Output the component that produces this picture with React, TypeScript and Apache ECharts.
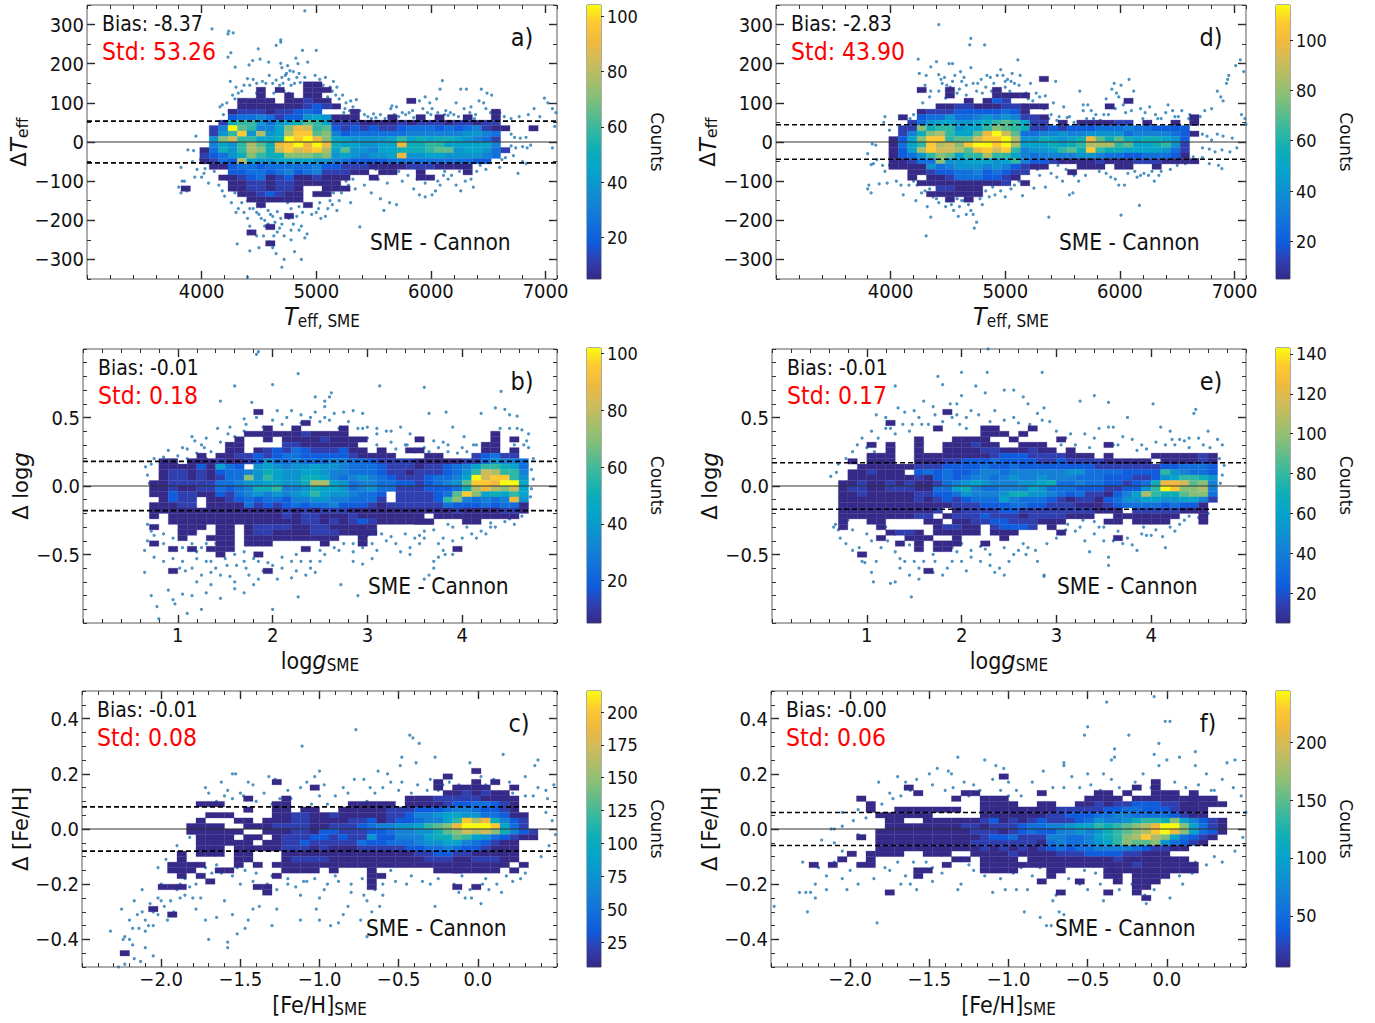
import React, { useRef, useEffect } from 'react'
import * as echarts from 'echarts'

type Row = [number, number, string]
type Pt = [number, number]

// colour ramp of the 2d histograms
const parula: string[] = ['#352a87', '#2f3fb0', '#0f5cdd', '#1170dc', '#1481d6', '#0c94cf', '#06a4ca', '#0dadb8', '#2eb7a4', '#5abb8d', '#87bf77', '#aebd68', '#d1bb59', '#f0b93e', '#fec832', '#f9fb0e']

// histogram rows: [row from top, first column, one hex level per bin] on a 50x50 bin grid
const histA: Row[] = [
  [14, 23, '00'], [15, 18, '0'], [15, 20, '0'], [15, 23, '000'], [16, 18, '0'], [16, 21, '0'], [16, 23, '00'],
  [17, 16, '0000.00100'], [17, 34, '0'], [18, 16, '00000001210'], [19, 15, '0111011232...0'], [19, 43, '0'],
  [20, 15, '23343122565000'], [20, 32, '0'], [20, 35, '0'], [20, 37, '0'], [20, 40, '0'], [20, 43, '0'],
  [21, 14, '17885 35679 86111 00001 01110 11011'],
  [22, 13, '14f98 446ad c8921 21211 23332 32341 00'], [22, 47, '0'],
  [23, 13, '158e5 b56be e9a42 33333 34444 44554 3'],
  [24, 13, '5ac88 667fe fda66 55556 86767 76543 1'],
  [25, 13, '4658b 97def dfd76 65566 d7788 66666 4'],
  [26, 12, '03758 ba7ce cdeb6 95546 67778 99566 531'],
  [27, 12, '12357 a877a aa9a5 65455 6d556 65555 43'],
  [28, 12, '0132b 65566 66554 32222 33333 33332 2'],
  [29, 13, '00233 23333 34221 110'], [29, 31, '00011 10000'],
  [30, 15, '22332 34234 11100'], [30, 31, '00'], [30, 35, '0'], [30, 40, '0'],
  [31, 14, '00123 01200 1000'], [31, 30, '0'], [31, 35, '00'],
  [32, 15, '00110 11000 00'], [33, 10, '0'], [33, 15, '00110110'], [33, 25, '000'],
  [34, 16, '0012100'], [34, 24, '00'], [35, 17, '00000'], [35, 22, '0'], [36, 18, '0'], [36, 23, '0'],
  [38, 21, '0'], [40, 19, '0'], [41, 17, '0'], [43, 19, '0'],
]
const histD: Row[] = [
  [13, 28, '0'], [15, 15, '0'], [15, 18, '0'], [15, 23, '0'], [16, 18, '0'], [16, 23, '000'], [16, 26, '0'],
  [17, 20, '0'], [17, 22, '021'], [17, 37, '0'], [18, 17, '001100011'], [18, 26, '000'], [18, 35, '0'],
  [19, 15, '011122222320'], [20, 13, '0'], [20, 15, '23353345454110'], [20, 44, '0'],
  [21, 14, '13566 55678 98611'], [21, 30, '0'], [21, 32, '000011'], [21, 39, '0'], [21, 42, '0'], [21, 44, '0'],
  [22, 13, '11a78 85668 a9871 12122 23334 33222 2'],
  [23, 13, '147ab 8669d fc933 44544 55553 44443 20'],
  [24, 12, '026ae e899c eefb5 57656 7d979 76776 52'],
  [25, 12, '0368e bcaef fefb6 66767 8bbb8 96678 51'],
  [26, 12, '026be ccb9d ece84 55689 7e877 66665 31'],
  [27, 12, '02358 a9688 b8864 34444 55433 22333 20'],
  [28, 12, '00133 a5566 65684 22100 00100 01110 000'],
  [29, 12, '00005 34555 45421 00'], [29, 32, '000'], [29, 36, '00'], [29, 40, '0'],
  [30, 14, '00122 33423 211'], [30, 31, '0'], [31, 14, '0.001 33322 10'],
  [32, 15, '00000 00001'], [32, 26, '0'], [33, 17, '11000'], [34, 16, '000000'], [35, 18, '0'], [35, 20, '0'],
]
const histB: Row[] = [
  [11, 18, '0'], [13, 23, '0'], [14, 19, '0'], [14, 22, '0'], [14, 27, '0'],
  [15, 17, '00000010000'], [15, 43, '0'], [16, 16, '0'], [16, 19, '0'], [16, 21, '000010000'], [16, 35, '0'], [16, 43, '0'], [16, 45, '0'],
  [17, 15, '00'], [17, 21, '11000000'], [17, 42, '00'], [18, 15, '00'], [18, 18, '012132111200'], [18, 31, '0'], [18, 34, '00'], [18, 42, '00'], [18, 45, '0'],
  [19, 12, '0'], [19, 14, '00'], [19, 16, '11212332222210000'], [19, 36, '00'], [19, 41, '12311'],
  [20, 8, '00.00'], [20, 13, '01001 25334 33344 33211 11000 00113 5443'],
  [21, 8, '00002 0632. 56545 56554 33321 11011 23468 8763'],
  [22, 8, '01101 02334 57655 66544 33321 10111 2358c b884'],
  [23, 8, '01101 0133a 58655 77643 45432 11123 346fc ee85'],
  [24, 7, '00111 11334 55665 57bb6 53443 32212 3459e edff6'],
  [25, 7, '00100 11323 47784 45766 53453 31112 2237b dbac6'],
  [26, 7, '00211 00213 45454 56865 54332 .1111 239ea 67686'],
  [27, 8, '0211. 00123 23324 45544 3331. 11112 8a434 34d5'],
  [28, 7, '00011 .0000 31212 32334 22210 11111 13222 32330'],
  [29, 7, '00000 00000 00001 01011 10000 00000 00100 00110'],
  [30, 7, '0'], [30, 9, '000000000000101100010000000'], [30, 37, '00000000'], [30, 45, '0'],
  [31, 9, '0000000000000011010121000000'], [31, 40, '00'], [31, 35, '00'],
  [32, 7, '0'], [32, 10, '000'], [32, 14, '00'], [32, 17, '01111001100000'],
  [33, 10, '00'], [33, 14, '00'], [33, 17, '01100001110002'], [33, 29, '00'],
  [34, 10, '0'], [34, 13, '000'], [34, 17, '0000'], [34, 21, '00000'], [34, 26, '0'], [34, 29, '0'],
  [35, 7, '0'], [35, 14, '00'], [35, 17, '000'], [35, 25, '0'], [35, 29, '0'],
  [36, 9, '0'], [36, 11, '0'], [36, 13, '000'], [36, 23, '0'], [36, 39, '0'], [37, 14, '0'], [37, 18, '0'], [40, 9, '0'], [40, 19, '0'],
]
const histE: Row[] = [
  [11, 18, '0'], [13, 12, '0'], [14, 17, '0'], [14, 22, '00'], [14, 27, '0'], [15, 22, '000'], [15, 26, '0'],
  [16, 15, '0'], [16, 19, '0000'], [16, 25, '0'], [16, 30, '0'], [17, 10, '0'], [17, 12, '0'], [17, 15, '0'], [17, 18, '000100'], [17, 26, '000'], [17, 35, '0'],
  [18, 12, '0'], [18, 15, '0'], [18, 18, '000011000100'], [18, 31, '0'],
  [19, 10, '000'], [19, 15, '00000 00012 22111 1000'], [19, 35, '0'], [19, 40, '00000 10'],
  [20, 8, '0'], [20, 10, '000'], [20, 15, '00011 22232 22211 21111 00000 .0000 10'],
  [21, 9, '000000'], [21, 15, '11122 22322 32222 22221 11111 12233 32'],
  [22, 8, '001000'], [22, 15, '23232 23443 44444 45533 33222 28543 32'],
  [23, 8, '000000010'], [23, 17, '23234 43454 45444 33322 21125 68875'],
  [24, 7, '0010010100'], [24, 17, '13456 54445 56733 43322 1237d dc9a4'],
  [25, 7, '0110011100'], [25, 17, '33674 33444 65333 22211 2258f eaab4'],
  [26, 7, '00100 00011 22354 44577 55432 31102 46b87 79aa3'],
  [27, 7, '00000 00010 12123 33643 33210 11023 55665 56641'],
  [28, 7, '00000 00000 00111 22233 22111 00012 33332 3220'],
  [29, 7, '00000 00000 1.011 11221 11111 11000 .1111 1000'],
  [30, 7, '00000 00011 .0111 21110 11110 00..0 00000 0'], [30, 45, '0'],
  [31, 7, '0'], [31, 10, '00'], [31, 16, '00'], [31, 19, '00112 21110 00'], [31, 35, '00'], [31, 38, '000'], [31, 41, '0'], [31, 45, '0'],
  [32, 7, '0'], [32, 11, '0'], [32, 17, '01100'], [32, 23, '12221'], [32, 29, '0'],
  [33, 12, '0110'], [33, 17, '00000'], [33, 23, '000'], [33, 30, '0'],
  [34, 11, '0'], [34, 14, '000'], [34, 19, '0'], [34, 24, '0'], [34, 36, '0'],
  [35, 13, '0'], [35, 15, '0'], [35, 17, '000'], [35, 22, '0'],
  [36, 15, '0'], [36, 17, '00'], [37, 9, '0'], [40, 16, '0'],
]
const histC: Row[] = [
  [14, 41, '0'], [15, 38, '0'], [16, 20, '0'], [16, 37, '0'], [16, 41, '0'], [16, 43, '0'], [17, 24, '0'], [17, 37, '0'], [17, 39, '0000'], [17, 45, '0'],
  [18, 38, '0010100'], [19, 17, '0'], [19, 21, '0'], [19, 34, '0001'], [19, 38, '1111000'], [19, 44, '00'],
  [20, 12, '000'], [20, 20, '00'], [20, 28, '000'], [20, 31, '00'], [20, 34, '00001 22332 10'],
  [21, 17, '0'], [21, 20, '00'], [21, 23, '00'], [21, 27, '00000 11122 23443 2210'],
  [22, 13, '000'], [22, 20, '00110 01000 00112 44566 55332 00'],
  [23, 12, '0'], [23, 16, '00'], [23, 19, '00011 00001 12012 23446 8ebd7 421'],
  [24, 11, '0000'], [24, 17, '00011 11001 11234 45568 9adff fe631'],
  [25, 11, '000000'], [25, 19, '00011 02211 12234 45579 acbca 7421'],
  [26, 12, '0000'], [26, 17, '00'], [26, 20, '01112 21211 52244 46779 86532 100'],
  [27, 12, '000000'], [27, 19, '00112 11111 32233 34556 64321 00'],
  [28, 12, '000'], [28, 16, '00'], [28, 18, '00011 10100 01111 12233 43221 000'],
  [29, 10, '0'], [29, 12, '000'], [29, 16, '00'], [29, 21, '00000 00000 00001 12211 00000'],
  [30, 10, '0'], [30, 16, '00'], [30, 21, '01111 00000 00000 11100 11100'],
  [31, 9, '000'], [31, 12, '0'], [31, 16, '0'], [31, 18, '0'], [31, 20, '0'], [31, 21, '00000 00000 00000 00000 0000'], [31, 46, '0'],
  [32, 9, '000'], [32, 14, '00'], [32, 21, '0000'], [32, 26, '0'], [32, 30, '0'], [32, 37, '000'], [32, 39, '0000'], [32, 43, '0'], [32, 45, '0'],
  [33, 10, '0'], [33, 12, '0'], [33, 20, '0'], [33, 30, '00'], [34, 13, '0'], [34, 30, '0'],
  [35, 8, '000'], [35, 18, '00'], [35, 30, '0'], [35, 39, '0'], [35, 41, '0'], [36, 19, '0'], [39, 7, '0'], [40, 9, '0'], [47, 4, '0'],
]
const histF: Row[] = [
  [15, 24, '0'], [16, 40, '0'], [17, 14, '0'], [17, 38, '0'], [17, 40, '0'], [18, 15, '0'], [18, 20, '00'], [18, 28, '0'], [18, 34, '00'], [18, 37, '0'], [18, 40, '000'], [18, 44, '0'],
  [19, 9, '0'], [19, 19, '0'], [19, 22, '000'], [19, 33, '0000'], [19, 38, '0000000'], [19, 44, '000'],
  [20, 10, '0'], [20, 22, '0000'], [20, 28, '00'], [20, 32, '00101 12221 10000'], [20, 47, '0'],
  [21, 10, '0'], [21, 13, '000'], [21, 16, '0000'], [21, 22, '00000'], [21, 27, '00011 11122 33222 1000'],
  [22, 11, '000000'], [22, 22, '0000'], [22, 26, '00011 22233 44333 32100'],
  [23, 12, '00'], [23, 16, '0000'], [23, 20, '00120 10121 11235 44578 87a64 210'],
  [24, 12, '00000000'], [24, 20, '11011 12334 45668 789ab dffa6 310'],
  [25, 11, '000000'], [25, 17, '000'], [25, 20, '01110 12322 44545 789ab efda6 320'],
  [26, 9, '0'], [26, 11, '0'], [26, 12, '00000'], [26, 17, '00000'], [26, 22, '12231 11443 34678 abeba 63210'],
  [27, 11, '0'], [27, 12, '0000'], [27, 16, '0000'], [27, 20, '01111 11103 43345 68a99 a5321 0'],
  [28, 11, '0'], [28, 12, '0000'], [28, 16, '00000'], [28, 21, '01010 10123 23344 44321 100'],
  [29, 8, '0'], [29, 10, '00'], [29, 12, '00'], [29, 16, '000'], [29, 21, '00001 00001 11222 21100 0'],
  [30, 7, '0'], [30, 10, '0'], [30, 19, '00'], [30, 22, '0000'], [30, 27, '00000 00001 00000 00'],
  [31, 4, '0'], [31, 6, '0'], [31, 9, '00'], [31, 18, '0'], [31, 22, '000'], [31, 25, '00'], [31, 27, '00'], [31, 29, '00000 00001 00000 0'],
  [32, 15, '00'], [32, 22, '0000'], [32, 29, '00'], [32, 35, '0000000000'],
  [33, 15, '0'], [33, 29, '0'], [33, 35, '00'], [33, 38, '0000'],
  [34, 28, '0'], [34, 32, '0'], [34, 36, '0'], [34, 38, '000'], [35, 38, '00'],
  [36, 12, '0'], [36, 30, '0'], [36, 35, '0'], [36, 38, '0'], [37, 39, '0'],
]

const pointsA: Pt[] = [[4900, 335], [4090, 289], [4237, 283], [4230, 276], [4275, 279], [4690, 261], [4690, 255], [4494, 238], [4650, 247], [4880, 234], [5000, 234], [4255, 228], [4230, 217], [4414, 197], [4510, 212], [4445, 208], [4293, 191], [4585, 204], [4690, 201], [4822, 214], [4840, 200], [4925, 204], [4770, 182], [4800, 180], [4740, 175], [4700, 165], [4650, 158], [4710, 150], [4760, 160], [4830, 165], [4860, 152], [4780, 145], [4720, 130], [4670, 135], [4250, 155], [4400, 162], [4450, 160], [4530, 155], [4560, 150], [4480, 150], [4370, 145], [4320, 125], [4290, 110], [4270, 120], [4220, 100], [4180, 95], [4160, 90], [5150, 155], [5120, 140], [5200, 110], [5260, 100], [5300, 105], [5350, 108], [5240, 75], [5290, 80], [5340, 70], [5100, 115], [5450, 65], [5480, 60], [5500, 72], [5600, 60], [5650, 85], [5660, 92], [5700, 90], [5750, 75], [5780, 70], [5850, 62], [5900, 105], [5950, 115], [5990, 100], [6010, 85], [6050, 110], [6080, 135], [6100, 157], [6000, 70], [6130, 80], [6170, 75], [6220, 100], [6260, 135], [6310, 135], [6290, 85], [6340, 75], [6390, 70], [6420, 105], [6440, 135], [6460, 100], [6490, 125], [6530, 120], [6580, 80], [6640, 65], [6700, 60], [6770, 65], [6850, 70], [6900, 85], [6950, 65], [6990, 112], [7020, 100], [7060, 85], [7090, 75], [7080, 40], [6920, 35], [6700, 20], [6730, 12], [6780, 10], [6830, 12], [6700, -10], [6740, -15], [6800, -12], [6840, -15], [6870, -8], [7060, -15], [6720, -35], [6650, -40], [6620, -45], [6800, -50], [6830, -55], [6760, -80], [3950, 15], [3880, -20], [3930, -22], [3820, -65], [3960, -70], [3920, -50], [3990, -45], [4030, -68], [4020, -80], [4000, -90], [3940, -90], [3850, -100], [3830, -100], [3800, -115], [3820, -130], [3870, -125], [4060, -105], [4110, -75], [4150, -110], [4180, -125], [4200, -138], [4260, -155], [4320, -170], [4370, -180], [4400, -195], [4420, -215], [4300, -180], [4450, -170], [4500, -185], [4550, -200], [4620, -190], [4660, -178], [4690, -195], [4740, -185], [4800, -210], [4850, -225], [4920, -235], [5000, -180], [5040, -195], [5100, -170], [5180, -175], [5200, -150], [5120, -150], [5070, -130], [4900, -245], [4870, -215], [4780, -170], [4310, -260], [4420, -278], [4500, -270], [4620, -270], [4650, -285], [4780, -250], [4810, -280], [4870, -300], [4720, -300], [4700, -320], [4400, -345], [4580, -210], [4630, -240], [4480, -240], [4540, -240], [5380, -217], [5300, -155], [5340, -120], [5420, -110], [5480, -130], [5560, -145], [5590, -175], [5640, -155], [5700, -160], [5750, -100], [5800, -85], [5850, -120], [5900, -135], [5950, -140], [6010, -135], [6040, -125], [6080, -110], [6150, -95], [6180, -85], [6220, -110], [6260, -125], [6300, -100], [6370, -115], [6400, -75], [6480, -70], [6600, -65], [5660, -80], [5490, -90], [4730, 170], [4810, 150], [4760, 125], [4630, 125], [4480, 125], [4340, 100], [4240, 80], [4190, 70], [5180, 140], [5250, 85], [5420, 70], [5560, 70], [5680, 70], [5840, 80], [5930, 85], [6060, 75], [6200, 70], [6350, 90], [6480, 85], [6560, 70], [4350, -130], [4420, -170], [4520, -165], [4580, -175], [4750, -155], [4850, -165], [4950, -160], [5030, -155], [5150, -130], [5280, -110], [5400, -75], [5540, -95], [5620, -105], [5880, -95], [6120, -75], [6250, -75], [6430, -60], [4550, -215], [4680, -220], [4720, -240], [4590, -255], [4300, 140], [4350, 130], [4420, 145], [4540, 135], [4590, 170], [4620, 150], [4680, 145], [4700, 190], [4750, 195], [4850, 175], [4900, 165], [4990, 170], [5030, 160], [5080, 165], [5060, 145], [5140, 130], [5170, 120], [5230, 120], [5320, 90], [5380, 80], [5520, 62], [5630, 65], [5720, 65], [5810, 75], [5880, 65], [5970, 75], [6120, 70], [6150, 68], [6240, 65], [6380, 60], [6520, 75], [6600, 75], [4220, -95], [4260, -120], [4290, -130], [4350, -155], [4400, -150], [4480, -180], [4520, -195], [4600, -185], [4640, -205], [4660, -230], [4700, -210], [4760, -195], [4780, -225], [4830, -190], [4880, -180], [4960, -185], [5020, -170], [5080, -190], [5140, -160], [5220, -130], [5260, -100], [5320, -95], [5440, -80], [5520, -70], [5720, -75], [5950, -105], [6060, -100], [6110, -85], [6350, -95]]
const pointsD: Pt[] = [[4420, 300], [4700, 265], [4690, 248], [4820, 248], [4240, 212], [4400, 205], [4510, 200], [4540, 200], [4700, 190], [5110, 210], [4350, 192], [4250, 175], [4310, 170], [4420, 172], [4440, 160], [4450, 150], [4640, 165], [4620, 155], [4540, 155], [4490, 145], [4520, 140], [4600, 135], [4580, 125], [4660, 120], [4750, 130], [4790, 160], [4760, 150], [4830, 140], [4870, 165], [4930, 170], [4960, 185], [4980, 170], [5020, 160], [5050, 155], [5040, 130], [5080, 150], [5120, 145], [5180, 125], [5220, 150], [5440, 155], [5350, 118], [5300, 115], [5290, 90], [5340, 85], [5400, 70], [5450, 55], [5500, 50], [5510, 90], [5600, 50], [5650, 130], [5720, 95], [5750, 80], [5710, 60], [5790, 70], [5830, 55], [5880, 110], [5950, 150], [5930, 135], [5970, 125], [5990, 115], [6010, 145], [6080, 160], [6030, 95], [6120, 130], [6180, 85], [6260, 90], [6310, 70], [6400, 75], [6420, 95], [6480, 65], [6540, 80], [6610, 70], [6700, 65], [6740, 80], [6800, 85], [6850, 130], [6880, 115], [6900, 105], [6950, 170], [6940, 160], [6930, 150], [7010, 195], [7050, 210], [7080, 180], [7060, 70], [7090, 60], [7100, 45], [6720, 20], [6760, 15], [6800, 5], [6850, 20], [6900, 15], [6980, 10], [6720, -15], [6780, -18], [6830, -25], [6890, -20], [6960, -25], [7020, -15], [6640, -38], [6720, -40], [6860, -60], [6890, -68], [6780, -55], [3950, 65], [3940, 50], [3990, 30], [3840, -5], [3870, -8], [3800, -30], [3880, -45], [3850, -55], [3830, -58], [3950, -75], [3990, -60], [3930, -60], [3970, -105], [3900, -107], [3810, -110], [3800, -120], [3830, -130], [4050, -100], [4090, -110], [4110, -135], [4160, -110], [4200, -100], [4320, -165], [4350, -192], [4310, -240], [4220, -150], [4300, -125], [4370, -140], [4420, -155], [4480, -165], [4550, -175], [4600, -165], [4590, -190], [4640, -150], [4680, -160], [4700, -175], [4730, -220], [4750, -205], [4720, -185], [4800, -160], [4860, -140], [4910, -135], [4960, -125], [5000, -140], [5080, -110], [5150, -137], [5380, -192], [5250, -118], [5350, -115], [5400, -80], [5450, -90], [5500, -100], [5560, -135], [5590, -130], [5640, -100], [5700, -85], [5800, -65], [5880, -80], [5920, -90], [5990, -110], [6040, -110], [6130, -75], [6170, -162], [6010, -187], [6180, -85], [6250, -85], [6340, -85], [6360, -75], [6440, -70], [6500, -60], [6570, -55], [4280, 100], [4340, 115], [4420, 130], [4480, 112], [5000, 140], [4880, 130], [5160, 95], [5240, 105], [5380, 60], [5560, 65], [5680, 80], [5900, 70], [6050, 75], [6200, 60], [6330, 60], [6600, 60], [4200, 70], [4170, 60], [4500, -130], [4580, -145], [4660, -130], [4780, -125], [5030, -100], [5200, -80], [5280, -70], [5460, -60], [5600, -85], [5760, -60], [6100, -65], [6280, -75], [4250, 130], [4300, 145], [4350, 130], [4470, 165], [4560, 170], [4610, 180], [4660, 145], [4720, 150], [4800, 125], [4840, 170], [4900, 150], [5000, 155], [5060, 175], [5130, 170], [5200, 110], [5270, 125], [5320, 65], [5420, 100], [5470, 65], [5540, 62], [5680, 95], [5770, 60], [5860, 70], [5960, 85], [6100, 80], [6220, 75], [6360, 60], [6460, 80], [6510, 65], [6660, 55], [4230, -110], [4270, -130], [4340, -120], [4400, -145], [4450, -130], [4530, -160], [4620, -150], [4660, -185], [4780, -145], [4830, -125], [4890, -115], [5050, -120], [5120, -100], [5300, -85], [5530, -70], [5820, -75], [5960, -95], [6070, -80], [6150, -90], [6210, -80], [6300, -100]]
const pointsB: Pt[] = [[1.83, 0.96], [1.85, 0.98], [2.27, 0.82], [1.6, 0.73], [2.0, 0.74], [3.13, 0.73], [3.6, 0.72], [1.45, 0.62], [2.45, 0.65], [2.55, 0.62], [2.62, 0.68], [2.6, 0.65], [4.41, 0.69], [1.78, 0.61], [2.2, 0.55], [2.15, 0.5], [1.7, 0.49], [1.83, 0.5], [2.45, 0.54], [2.55, 0.5], [2.65, 0.53], [2.75, 0.54], [2.85, 0.55], [2.95, 0.53], [3.65, 0.53], [3.83, 0.54], [3.9, 0.43], [4.2, 0.53], [4.35, 0.57], [4.45, 0.56], [4.5, 0.52], [4.58, 0.51], [2.0, 0.48], [2.1, 0.45], [2.35, 0.46], [2.6, 0.48], [2.8, 0.47], [3.0, 0.43], [3.2, 0.4], [3.35, 0.43], [3.45, 0.38], [3.55, 0.35], [3.7, 0.33], [1.42, 0.42], [1.25, 0.3], [1.15, 0.36], [1.18, 0.33], [1.05, 0.28], [1.28, 0.28], [1.35, 0.25], [1.45, 0.32], [1.53, 0.38], [1.6, 0.36], [1.7, 0.4], [1.8, 0.38], [1.0, 0.22], [0.95, 0.19], [0.75, 0.2], [0.72, 0.16], [0.66, 0.14], [0.68, 0.08], [0.7, 0.02], [0.85, 0.21], [3.0, 0.35], [3.1, 0.38], [3.25, 0.32], [3.3, 0.27], [3.5, 0.25], [3.75, 0.28], [3.85, 0.25], [3.95, 0.24], [4.02, 0.36], [4.15, 0.3], [4.25, 0.3], [4.4, 0.42], [4.5, 0.42], [4.63, 0.41], [4.7, 0.38], [4.65, 0.3], [4.7, 0.28], [4.75, 0.2], [4.73, 0.12], [4.75, 0.05], [4.73, -0.02], [4.68, -0.13], [4.63, -0.22], [4.55, -0.28], [4.45, -0.26], [4.3, -0.3], [4.2, -0.33], [4.1, -0.35], [4.0, -0.38], [3.85, -0.28], [3.8, -0.38], [3.7, -0.32], [3.6, -0.33], [3.55, -0.42], [3.5, -0.38], [3.4, -0.35], [3.35, -0.48], [3.3, -0.42], [3.2, -0.4], [3.05, -0.42], [2.95, -0.4], [2.85, -0.42], [2.7, -0.47], [2.55, -0.5], [2.4, -0.55], [2.2, -0.55], [2.1, -0.52], [1.95, -0.56], [1.8, -0.53], [1.7, -0.55], [1.6, -0.5], [1.5, -0.53], [1.4, -0.6], [1.3, -0.55], [1.2, -0.53], [1.15, -0.6], [1.05, -0.55], [0.95, -0.53], [0.85, -0.55], [0.75, -0.52], [0.65, -0.47], [0.68, -0.4], [0.72, -0.33], [0.65, -0.63], [1.02, -0.6], [1.08, -0.62], [1.25, -0.65], [1.35, -0.63], [1.45, -0.65], [1.55, -0.66], [1.6, -0.7], [1.75, -0.65], [1.9, -0.62], [2.25, -0.62], [2.4, -0.6], [2.45, -0.63], [2.85, -0.55], [2.95, -0.57], [3.05, -0.53], [3.7, -0.55], [3.75, -0.52], [3.7, -0.6], [3.65, -0.65], [3.6, -0.68], [3.82, -0.5], [3.9, -0.5], [0.72, -0.8], [0.78, -0.88], [0.8, -0.97], [0.9, -0.76], [0.95, -0.83], [0.97, -0.86], [1.05, -0.79], [1.1, -0.93], [1.15, -0.8], [1.25, -0.9], [1.3, -0.78], [1.35, -0.72], [1.45, -0.82], [1.2, -0.7], [1.6, -0.75], [1.7, -0.78], [2.0, -0.9], [2.27, -0.81], [2.72, -0.72], [2.9, -0.8], [1.8, -0.72], [1.85, -0.68], [2.2, -0.67], [2.05, -0.68], [2.35, -0.65], [2.95, -0.45], [3.15, -0.35], [3.45, -0.45], [3.6, -0.38], [3.9, -0.3], [4.15, -0.38], [4.35, -0.3], [0.85, -0.42], [1.15, -0.42], [1.2, -0.48], [1.4, -0.42], [1.7, -0.48], [2.25, -0.5], [2.5, -0.47], [2.85, -0.48], [3.1, -0.47], [2.3, 0.46], [2.5, 0.47], [2.95, 0.42], [3.1, 0.3], [3.4, 0.3], [3.6, 0.28], [3.85, 0.3], [4.0, 0.28], [4.55, 0.3], [1.1, 0.27], [1.2, 0.24], [1.3, 0.35], [1.3, 0.2], [1.1, 0.2], [0.9, 0.26], [1.55, 0.43], [1.72, 0.45], [1.9, 0.43], [2.05, 0.55], [2.3, 0.52], [2.4, 0.5], [2.55, 0.58], [2.7, 0.42], [2.9, 0.42], [3.1, 0.42], [3.25, 0.4], [3.42, 0.3], [3.65, 0.25], [3.8, 0.32], [4.05, 0.25], [4.12, 0.3], [4.58, 0.42], [4.68, 0.33], [4.72, -0.08], [0.72, -0.18], [0.68, -0.28], [0.75, -0.36], [0.85, -0.35], [0.95, -0.38], [1.05, -0.45], [1.25, -0.45], [1.3, -0.42], [1.35, -0.55], [1.52, -0.58], [1.62, -0.58], [1.72, -0.6], [1.85, -0.55], [2.0, -0.58], [2.1, -0.6], [2.3, -0.55], [2.5, -0.55], [2.65, -0.45], [2.75, -0.42], [3.0, -0.36], [3.25, -0.37], [3.45, -0.5], [3.55, -0.36], [3.75, -0.42], [3.8, -0.47], [3.9, -0.4], [4.05, -0.3], [4.25, -0.35], [4.3, -0.27], [4.5, -0.24]]
const pointsE: Pt[] = [[2.28, 1.0], [2.85, 0.83], [2.0, 0.83], [2.27, 0.83], [1.75, 0.8], [1.8, 0.74], [2.15, 0.73], [2.25, 0.68], [1.3, 0.73], [2.45, 0.7], [2.55, 0.7], [2.65, 0.65], [2.7, 0.6], [2.0, 0.66], [3.4, 0.66], [3.25, 0.62], [3.55, 0.61], [4.02, 0.6], [1.95, 0.6], [1.88, 0.6], [1.7, 0.58], [1.6, 0.62], [1.5, 0.55], [1.4, 0.54], [1.33, 0.57], [1.1, 0.52], [1.2, 0.5], [1.38, 0.45], [1.55, 0.5], [1.8, 0.47], [2.1, 0.55], [2.18, 0.52], [2.3, 0.47], [2.45, 0.48], [2.6, 0.46], [2.8, 0.53], [2.87, 0.57], [2.93, 0.47], [3.15, 0.38], [3.3, 0.38], [3.4, 0.35], [3.55, 0.43], [3.6, 0.43], [3.7, 0.36], [3.8, 0.34], [3.9, 0.3], [3.75, 0.5], [4.1, 0.43], [4.2, 0.4], [4.25, 0.3], [4.35, 0.33], [4.4, 0.35], [4.45, 0.53], [4.47, 0.56], [4.5, 0.35], [4.55, 0.3], [4.6, 0.4], [4.7, 0.34], [4.75, 0.3], [4.72, 0.2], [4.77, 0.15], [4.75, 0.08], [4.73, 0.02], [1.05, 0.4], [1.12, 0.35], [0.95, 0.35], [0.9, 0.3], [0.85, 0.25], [0.78, 0.2], [0.7, 0.16], [0.68, 0.1], [0.62, 0.07], [0.65, -0.3], [0.7, -0.32], [0.67, -0.28], [0.72, -0.38], [0.78, -0.42], [0.85, -0.47], [0.95, -0.55], [0.92, -0.45], [1.05, -0.4], [1.15, -0.45], [1.1, -0.55], [1.05, -0.63], [0.98, -0.56], [1.3, -0.7], [1.25, -0.71], [1.07, -0.7], [1.35, -0.53], [1.4, -0.55], [1.45, -0.65], [1.5, -0.55], [1.55, -0.6], [1.55, -0.68], [1.47, -0.81], [1.65, -0.62], [1.7, -0.63], [1.8, -0.65], [1.85, -0.6], [1.9, -0.55], [2.0, -0.55], [2.05, -0.62], [2.1, -0.52], [2.2, -0.55], [2.3, -0.5], [2.4, -0.6], [2.45, -0.65], [2.35, -0.63], [2.55, -0.5], [2.6, -0.47], [2.7, -0.45], [2.8, -0.55], [2.87, -0.65], [2.9, -0.42], [3.0, -0.38], [3.1, -0.32], [3.2, -0.33], [3.3, -0.4], [3.35, -0.48], [3.4, -0.35], [3.5, -0.4], [3.55, -0.58], [3.55, -0.52], [3.6, -0.4], [3.75, -0.38], [3.8, -0.43], [3.85, -0.47], [3.95, -0.36], [4.05, -0.32], [4.12, -0.37], [4.15, -0.45], [4.25, -0.33], [4.3, -0.28], [4.5, -0.23], [4.6, -0.2], [4.68, -0.1], [1.2, -0.3], [1.3, -0.35], [1.45, -0.43], [2.2, -0.44], [2.87, -0.66], [3.22, -0.2], [3.4, -0.26], [3.5, -0.3], [1.9, -0.45], [2.0, -0.42], [1.25, 0.42], [1.45, 0.4], [1.65, 0.45], [1.9, 0.5], [1.98, 0.45], [2.05, 0.5], [2.35, 0.55], [2.72, 0.45], [3.0, 0.4], [3.2, 0.3], [3.35, 0.28], [3.45, 0.42], [3.65, 0.3], [3.85, 0.26], [4.05, 0.32], [4.15, 0.3], [4.3, 0.34], [2.65, -0.42], [2.45, -0.45], [2.25, -0.46], [1.7, -0.5], [1.3, -0.48], [3.05, -0.35], [3.25, -0.3], [3.65, -0.33], [3.9, -0.35], [1.0, 0.28], [1.08, 0.25], [1.2, 0.42], [1.3, 0.38], [1.48, 0.45], [1.58, 0.45], [1.72, 0.52], [1.95, 0.52], [2.05, 0.42], [2.55, 0.5], [2.85, 0.48], [3.05, 0.3], [3.1, 0.35], [3.6, 0.3], [3.95, 0.27], [4.22, 0.34], [4.4, 0.28], [4.62, 0.28], [0.8, -0.25], [0.85, -0.32], [1.0, -0.35], [1.12, -0.38], [1.22, -0.4], [1.35, -0.6], [1.6, -0.55], [1.72, -0.55], [1.95, -0.48], [2.1, -0.47], [2.3, -0.58], [2.5, -0.55], [2.68, -0.5], [2.78, -0.47], [3.12, -0.28], [3.28, -0.25], [3.45, -0.3], [3.7, -0.42], [3.92, -0.3], [4.0, -0.36], [4.2, -0.3], [4.35, -0.25], [4.4, -0.22], [4.55, -0.18]]
const pointsC: Pt[] = [[-0.77, 0.36], [-1.11, 0.3], [-0.43, 0.34], [-0.41, 0.33], [-0.37, 0.31], [-0.48, 0.26], [-0.49, 0.23], [-0.39, 0.24], [-0.27, 0.26], [0.16, 0.27], [-0.05, 0.24], [0.38, 0.25], [0.36, 0.23], [-1.0, 0.21], [-1.03, 0.19], [-1.53, 0.2], [-1.55, 0.2], [-1.62, 0.17], [-1.72, 0.15], [-1.7, 0.13], [-1.58, 0.14], [-1.5, 0.13], [-1.45, 0.17], [-1.35, 0.13], [-1.32, 0.19], [-1.28, 0.18], [-1.2, 0.14], [-1.12, 0.15], [-1.08, 0.17], [-0.97, 0.16], [-0.85, 0.15], [-0.78, 0.18], [-0.72, 0.18], [-0.63, 0.21], [-0.57, 0.2], [-0.55, 0.17], [-0.48, 0.17], [-0.38, 0.16], [-0.32, 0.14], [-0.25, 0.14], [-0.18, 0.17], [0.02, 0.19], [0.1, 0.18], [0.2, 0.17], [0.3, 0.19], [0.38, 0.15], [0.43, 0.14], [0.48, 0.16], [-1.4, 0.1], [-1.3, 0.09], [-1.05, 0.09], [-0.95, 0.09], [-0.7, 0.1], [-0.65, 0.13], [0.43, 0.06], [0.47, 0.03], [0.49, -0.02], [0.45, -0.06], [0.4, -0.1], [-1.82, -0.03], [-1.9, -0.06], [-1.97, -0.11], [-2.02, -0.14], [-1.85, -0.18], [-1.78, -0.2], [-1.72, -0.14], [-1.75, -0.25], [-1.65, -0.13], [-1.55, -0.17], [-1.5, -0.2], [-1.42, -0.19], [-1.33, -0.2], [-1.27, -0.22], [-1.2, -0.18], [-1.15, -0.21], [-1.03, -0.18], [-1.0, -0.25], [-0.95, -0.2], [-0.9, -0.17], [-0.8, -0.23], [-0.72, -0.24], [-0.65, -0.22], [-0.6, -0.24], [-0.52, -0.19], [-0.42, -0.17], [-0.35, -0.19], [-0.25, -0.18], [-0.15, -0.2], [-0.12, -0.23], [-0.08, -0.25], [-0.04, -0.25], [0.02, -0.27], [0.07, -0.22], [0.15, -0.23], [0.18, -0.17], [0.3, -0.16], [-0.27, -0.28], [-2.32, -0.37], [-2.25, -0.29], [-2.2, -0.33], [-2.23, -0.39], [-2.18, -0.36], [-2.17, -0.26], [-2.15, -0.31], [-2.12, -0.22], [-2.1, -0.33], [-2.1, -0.37], [-2.05, -0.3], [-2.05, -0.35], [-2.02, -0.25], [-1.98, -0.28], [-1.96, -0.33], [-2.0, -0.2], [-1.9, -0.22], [-1.85, -0.24], [-1.8, -0.25], [-1.78, -0.29], [-1.72, -0.33], [-1.65, -0.32], [-1.55, -0.31], [-1.52, -0.38], [-1.47, -0.36], [-1.45, -0.33], [-1.42, -0.29], [-1.38, -0.28], [-1.3, -0.35], [-1.27, -0.29], [-1.12, -0.33], [-1.02, -0.29], [-1.0, -0.33], [-0.93, -0.35], [-0.88, -0.34], [-0.85, -0.31], [-0.82, -0.28], [-0.7, -0.26], [-0.67, -0.3], [-0.62, -0.28], [-0.74, -0.33], [-0.7, -0.39], [-1.7, -0.4], [-1.58, -0.41], [-1.58, -0.43], [-2.23, -0.49], [-2.13, -0.48], [-2.05, -0.46], [-2.1, -0.43], [-2.17, -0.47], [-2.24, -0.4], [-2.27, -0.5], [-1.6, -0.26], [-2.08, -0.35], [-2.02, -0.31], [-1.94, -0.26], [-2.07, -0.27], [-2.14, -0.36], [-1.88, -0.2], [-1.75, -0.17], [-1.62, -0.16], [-1.47, -0.15], [-1.25, -0.17], [-1.08, -0.19], [-0.88, -0.19], [-0.73, -0.18], [-0.55, -0.15], [-0.2, -0.15], [0.05, -0.18], [0.22, -0.19], [-1.65, 0.1], [-1.55, 0.11], [-1.25, 0.11], [-0.9, 0.12], [-0.6, 0.15], [-0.3, 0.18], [-0.12, 0.16], [0.35, 0.12], [-2.0, -0.26], [-1.92, -0.3], [-1.88, -0.25], [-2.12, -0.3], [-2.2, -0.4], [-2.18, -0.42], [-1.82, -0.21], [-1.68, -0.16], [-1.52, -0.14], [-1.4, -0.16], [-1.3, -0.17], [-1.2, -0.2], [-1.12, -0.24], [-1.1, -0.19], [-0.97, -0.22], [-0.8, -0.2], [-0.6, -0.2], [-0.45, -0.2], [-0.3, -0.2], [-0.1, -0.17], [-0.05, -0.22], [0.03, -0.2], [0.12, -0.2], [0.27, -0.18], [-1.6, 0.12], [-1.48, 0.12], [-1.42, 0.16], [-1.18, 0.11], [-1.0, 0.12], [-0.82, 0.13], [-0.68, 0.15], [-0.5, 0.14], [-0.42, 0.13], [-0.22, 0.16], [0.05, 0.16], [0.22, 0.13], [0.3, 0.12], [0.44, 0.11]]
const pointsF: Pt[] = [[-0.08, 0.48], [-0.38, 0.46], [-0.01, 0.39], [0.02, 0.39], [-0.5, 0.37], [-0.52, 0.34], [-0.24, 0.34], [-0.05, 0.31], [-0.33, 0.29], [-0.08, 0.27], [0.18, 0.28], [0.08, 0.26], [-0.35, 0.25], [-0.33, 0.26], [-1.32, 0.26], [-1.15, 0.25], [0.0, 0.25], [0.43, 0.25], [0.38, 0.24], [-0.65, 0.24], [-0.65, 0.23], [-1.08, 0.23], [-1.03, 0.22], [-1.45, 0.22], [-1.5, 0.2], [-1.58, 0.18], [-1.65, 0.17], [-1.7, 0.19], [-1.38, 0.21], [-1.36, 0.2], [-1.28, 0.17], [-1.22, 0.16], [-1.1, 0.18], [-1.0, 0.17], [-0.85, 0.17], [-0.78, 0.21], [-0.6, 0.19], [-0.5, 0.2], [-0.4, 0.2], [-0.35, 0.18], [-0.2, 0.17], [-0.15, 0.2], [-0.05, 0.23], [0.18, 0.23], [0.25, 0.2], [0.35, 0.18], [0.42, 0.15], [0.47, 0.12], [0.5, 0.06], [-1.82, 0.17], [-1.75, 0.13], [-1.73, 0.11], [-1.8, 0.09], [-1.95, 0.07], [-2.05, 0.06], [-1.98, 0.03], [-2.05, 0.01], [-2.12, 0.0], [-2.18, -0.04], [-2.1, -0.05], [-2.3, -0.12], [-2.2, -0.14], [-2.15, -0.17], [-2.1, -0.12], [-2.05, -0.18], [-2.0, -0.15], [-1.95, -0.2], [-1.85, -0.18], [-2.22, -0.2], [-2.32, -0.23], [-2.28, -0.23], [-2.25, -0.23], [-2.22, -0.25], [-2.27, -0.3], [-2.02, -0.22], [-2.15, -0.22], [-1.83, -0.34], [-1.75, -0.15], [-1.65, -0.17], [-1.62, -0.2], [-1.58, -0.22], [-1.48, -0.19], [-1.42, -0.16], [-1.3, -0.2], [-1.32, -0.22], [-1.15, -0.17], [-1.1, -0.23], [-1.02, -0.22], [-0.95, -0.22], [-0.88, -0.22], [-0.9, -0.3], [-0.8, -0.32], [-0.72, -0.26], [-0.68, -0.3], [-0.65, -0.31], [-0.73, -0.35], [-0.76, -0.35], [-0.7, -0.24], [-0.55, -0.2], [-0.4, -0.26], [-0.3, -0.22], [-0.22, -0.2], [-0.14, -0.24], [-0.13, -0.27], [0.02, -0.25], [0.1, -0.2], [0.16, -0.16], [0.25, -0.13], [0.35, -0.12], [0.43, -0.08], [0.48, -0.03], [-2.48, -0.28], [-0.5, -0.22], [-0.85, -0.17], [-0.97, -0.16], [-1.55, 0.13], [-1.4, 0.14], [-1.18, 0.14], [-1.05, 0.14], [-0.92, 0.12], [-0.72, 0.15], [-0.55, 0.15], [-0.42, 0.14], [-0.1, 0.15], [0.12, 0.15], [0.3, 0.14], [-1.9, 0.04], [-1.6, -0.12], [-1.55, -0.15], [-1.25, -0.13], [-0.8, -0.14], [-0.6, -0.13], [-0.45, -0.16], [-0.35, -0.14], [0.05, -0.15], [0.18, -0.12], [-1.68, 0.12], [-1.62, 0.14], [-1.48, 0.16], [-1.35, 0.15], [-1.25, 0.12], [-1.0, 0.12], [-0.95, 0.14], [-0.65, 0.15], [-0.48, 0.16], [-0.3, 0.15], [-0.25, 0.13], [0.05, 0.17], [0.2, 0.16], [0.28, 0.14], [-2.1, 0.0], [-1.95, -0.02], [-2.05, -0.08], [-1.9, -0.13], [-1.78, -0.14], [-1.7, -0.12], [-1.68, -0.2], [-1.52, -0.12], [-1.48, -0.14], [-1.38, -0.13], [-1.22, -0.15], [-1.08, -0.15], [-1.05, -0.18], [-0.92, -0.14], [-0.75, -0.16], [-0.62, -0.18], [-0.52, -0.15], [-0.42, -0.2], [-0.32, -0.18], [-0.25, -0.15], [-0.12, -0.2], [-0.08, -0.22], [0.08, -0.17], [0.3, -0.1]]

// scale limits of each panel
const limitsA: number[] = [3000, 7100, -350, 350]
const limitsB: number[] = [0, 5, -1, 1]
const limitsC: number[] = [-2.5, 0.5, -0.5, 0.5]

const xTicksT: number[] = [4000, 5000, 6000, 7000]
const yTicksT: number[] = [-300, -200, -100, 0, 100, 200, 300]
const xTicksG: number[] = [1, 2, 3, 4]
const yTicksG: number[] = [-0.5, 0, 0.5]
const xTicksF: number[] = [-2, -1.5, -1, -0.5, 0]
const yTicksF: number[] = [-0.4, -0.2, 0, 0.2, 0.4]

const panelNames: string[] = ['a)', 'b)', 'c)', 'd)', 'e)', 'f)']
const biasLabels: string[] = ['Bias: -8.37', 'Bias: -0.01', 'Bias: -0.01', 'Bias: -2.83', 'Bias: -0.01', 'Bias: -0.00']
const stdLabels: string[] = ['Std: 53.26', 'Std: 0.18', 'Std: 0.08', 'Std: 43.90', 'Std: 0.17', 'Std: 0.06']
const stdValues: number[] = [53.26, 0.18, 0.08, 43.9, 0.17, 0.06]
const countRanges: number[][] = [[5, 104], [5, 102], [6, 216], [5, 114], [5, 143], [6, 244]]
const countTicks: number[][] = [
  [20, 40, 60, 80, 100],
  [20, 40, 60, 80, 100],
  [25, 50, 75, 100, 125, 150, 175, 200],
  [20, 40, 60, 80, 100],
  [20, 40, 60, 80, 100, 120, 140],
  [50, 100, 150, 200],
]

const narrow = "'DejaVu Sans Condensed', 'DejaVu Sans'"
const frame = '#5a5a5a'

// expand the row strings to [x0, x1, y0, y1, level]
const expand = (rows: Row[], lim: number[]) => {
  const dx = (lim[1] - lim[0]) / 50
  const dy = (lim[3] - lim[2]) / 50
  const out: number[][] = []
  rows.forEach(([r, c0, s]) => {
    s.replace(/ /g, '').split('').forEach((ch, i) => {
      if (ch === '.') return
      const x0 = lim[0] + (c0 + i) * dx
      const y1 = lim[3] - r * dy
      out.push([x0, x0 + dx, y1 - dy, y1, parseInt(ch, 16)])
    })
  })
  return out
}

const fmt = (decimals: number) => (v: number) => v.toFixed(decimals).replace('-', '\u2212')

const App: React.FC = () => {
  const chartRef = useRef<HTMLDivElement>(null)

  useEffect(() => {
    if (!chartRef.current) return
    document.body.style.margin = '0'
    const chart = echarts.init(chartRef.current, undefined, { renderer: 'svg' })

    const rowsTop = [5, 349, 691]
    const rowsHeight = [274, 274, 276]
    const lefts = [87, 83, 82]
    const colShift = 689

    const panels = [
      { hist: histA, pts: pointsA, lim: limitsA, xt: xTicksT, yt: yTicksT, mx: 200, my: 50, kind: 0 },
      { hist: histB, pts: pointsB, lim: limitsB, xt: xTicksG, yt: yTicksG, mx: 0.2, my: 0.1, kind: 1 },
      { hist: histC, pts: pointsC, lim: limitsC, xt: xTicksF, yt: yTicksF, mx: 0.1, my: 0.05, kind: 2 },
      { hist: histD, pts: pointsD, lim: limitsA, xt: xTicksT, yt: yTicksT, mx: 200, my: 50, kind: 0 },
      { hist: histE, pts: pointsE, lim: limitsB, xt: xTicksG, yt: yTicksG, mx: 0.2, my: 0.1, kind: 1 },
      { hist: histF, pts: pointsF, lim: limitsC, xt: xTicksF, yt: yTicksF, mx: 0.1, my: 0.05, kind: 2 },
    ]
    const xDecimals = [0, 0, 1]
    const yDecimals = [0, 1, 1]
    const xNames = ['{i|T}{s|eff, SME}', '{n|log}{i|g}{s|SME}', '{n|[Fe/H]}{s|SME}']
    const yNames = ['{n|\u0394}{i|T}{s|eff}', '{n|\u0394 log}{i|g}', '{n|\u0394 [Fe/H]}']
    const richX = {
      n: { fontSize: 23, fontFamily: narrow, color: '#111' },
      i: { fontSize: 25, fontStyle: 'italic', fontFamily: narrow, color: '#111' },
      s: { fontSize: 17, fontFamily: narrow, color: '#111', verticalAlign: 'bottom', padding: [8, 0, 0, 0] },
    }
    const richY = {
      n: { fontSize: 21, fontFamily: 'DejaVu Sans', color: '#111' },
      i: { fontSize: 23, fontStyle: 'italic', fontFamily: 'DejaVu Sans', color: '#111' },
      s: { fontSize: 16, fontFamily: 'DejaVu Sans', color: '#111', verticalAlign: 'bottom', padding: [8, 0, 0, 0] },
    }

    const grids: any[] = []
    const xAxes: any[] = []
    const yAxes: any[] = []
    const series: any[] = []
    const graphics: any[] = []

    panels.forEach((p, idx) => {
      const col = idx < 3 ? 0 : 1
      const row = idx % 3
      const left = lefts[row] + col * colShift
      const right = 557 + col * 689
      const top = rowsTop[row]
      const height = rowsHeight[row]
      const range = countRanges[idx]
      const gridIndex = grids.length
      grids.push({ left, top, width: right - left, height, show: true, borderColor: frame, borderWidth: 1, backgroundColor: 'transparent' })

      const noLine = { show: false, onZero: false }
      const xBase = { type: 'value', gridIndex, min: p.lim[0], max: p.lim[1], splitLine: { show: false }, axisLine: noLine }
      const yBase = { type: 'value', gridIndex, min: p.lim[2], max: p.lim[3], splitLine: { show: false }, axisLine: noLine }
      const major = { inside: true, length: 8, lineStyle: { color: '#222', width: 1.4 } }
      const minor = { inside: true, length: 4, lineStyle: { color: '#333', width: 1 } }
      const xi = xAxes.length
      const yi = yAxes.length

      xAxes.push({
        ...xBase, position: 'bottom',
        axisTick: { ...major, customValues: p.xt },
        axisLabel: { customValues: p.xt, formatter: fmt(xDecimals[p.kind]), fontSize: 20, margin: 2, color: '#111', fontFamily: narrow },
        name: xNames[p.kind], nameLocation: 'middle', nameGap: 25, nameTextStyle: { rich: richX },
      })
      xAxes.push({ ...xBase, position: 'top', axisTick: { ...major, customValues: p.xt }, axisLabel: { show: false } })
      xAxes.push({ ...xBase, position: 'bottom', interval: p.mx, axisTick: minor, axisLabel: { show: false } })
      xAxes.push({ ...xBase, position: 'top', interval: p.mx, axisTick: minor, axisLabel: { show: false } })

      yAxes.push({
        ...yBase, position: 'left',
        axisTick: { ...major, customValues: p.yt },
        axisLabel: { customValues: p.yt, formatter: fmt(yDecimals[p.kind]), fontSize: 20, margin: 3, color: '#111', fontFamily: narrow },
        name: yNames[p.kind], nameLocation: 'middle', nameRotate: 90, nameGap: 50, nameTextStyle: { rich: richY },
      })
      yAxes.push({ ...yBase, position: 'right', axisTick: { ...major, customValues: p.yt }, axisLabel: { show: false } })
      yAxes.push({ ...yBase, position: 'left', interval: p.my, axisTick: minor, axisLabel: { show: false } })
      yAxes.push({ ...yBase, position: 'right', interval: p.my, axisTick: minor, axisLabel: { show: false } })

      series.push({
        type: 'scatter', xAxisIndex: xi, yAxisIndex: yi, data: p.pts, symbol: 'circle', symbolSize: 3.2,
        itemStyle: { color: '#1f77b4' }, silent: true, z: 1,
      })
      series.push({
        type: 'custom', xAxisIndex: xi, yAxisIndex: yi, silent: true, z: 2, clip: true,
        data: expand(p.hist, p.lim),
        encode: { x: [0, 1], y: [2, 3] },
        renderItem: (_: any, api: any) => {
          const a = api.coord([api.value(0), api.value(3)])
          const b = api.coord([api.value(1), api.value(2)])
          const fill = parula[api.value(4)]
          return {
            type: 'rect',
            shape: { x: a[0], y: a[1], width: b[0] - a[0], height: b[1] - a[1] },
            style: { fill, stroke: fill, lineWidth: 0.3 },
          }
        },
      })
      const lineSeries = (y: number, dashed: boolean) => ({
        type: 'line', xAxisIndex: xi, yAxisIndex: yi, silent: true, z: 3, symbol: 'none',
        data: [[p.lim[0], y], [p.lim[1], y]],
        lineStyle: dashed ? { color: '#000', width: 1.6, type: [5, 3] } : { color: '#333', width: 1 },
      })
      series.push(lineSeries(0, false))
      series.push(lineSeries(stdValues[idx], true))
      series.push(lineSeries(-stdValues[idx], true))

      // colour bar, its own grid with a count axis on the right
      const barLeft = 587 + col * 689
      const barGrid = grids.length
      grids.push({ left: barLeft, top: row === 1 ? 348 : top, width: 14, height: row === 1 ? 275 : height, show: true, borderColor: frame, borderWidth: 1, backgroundColor: 'transparent' })
      const bx = xAxes.length
      const by = yAxes.length
      xAxes.push({ type: 'value', gridIndex: barGrid, min: 0, max: 1, show: false })
      yAxes.push({
        type: 'value', gridIndex: barGrid, position: 'right', min: range[0], max: range[1],
        splitLine: { show: false }, axisLine: { show: false, onZero: false },
        axisTick: { length: 3, customValues: countTicks[idx], lineStyle: { color: '#222', width: 1 } },
        axisLabel: { customValues: countTicks[idx], fontSize: 18, margin: 6, color: '#111', fontFamily: narrow },
        name: 'Counts', nameLocation: 'middle', nameRotate: -90, nameGap: 47,
        nameTextStyle: { fontSize: 17, color: '#111', fontFamily: 'DejaVu Sans' },
      })
      series.push({
        type: 'custom', xAxisIndex: bx, yAxisIndex: by, silent: true, z: 2,
        data: [[0, 1, range[0], range[1]]],
        encode: { x: [0, 1], y: [2, 3] },
        renderItem: (_: any, api: any) => {
          const a = api.coord([0, api.value(3)])
          const b = api.coord([1, api.value(2)])
          return {
            type: 'rect',
            shape: { x: a[0], y: a[1], width: b[0] - a[0], height: b[1] - a[1] },
            style: {
              fill: new echarts.graphic.LinearGradient(0, 1, 0, 0, parula.map((color, i) => ({ offset: i / 15, color }))),
            },
          }
        },
      })

      // annotations inside the panel
      const textLeft = left + 15
      const textY = top + 19
      graphics.push({ type: 'text', x: textLeft, y: textY, style: { text: biasLabels[idx], fontSize: 21, fontFamily: narrow, fill: '#111', verticalAlign: 'middle' } })
      graphics.push({ type: 'text', x: textLeft, y: textY + 27, style: { text: stdLabels[idx], fontSize: 24.5, fontFamily: narrow, fill: '#ff0000', verticalAlign: 'middle' } })
      graphics.push({ type: 'text', x: 522 + col * 689 - (row === 2 ? 3 : 0), y: top + 32, style: { text: panelNames[idx], fontSize: 25, fontFamily: narrow, fill: '#111', align: 'center', verticalAlign: 'middle' } })
      graphics.push({ type: 'text', x: 370 + col * 689 - (row === 0 ? 0 : row === 1 ? 2 : 4), y: top + 237, style: { text: 'SME - Cannon', fontSize: 22.5, fontFamily: narrow, fill: '#111', verticalAlign: 'middle' } })
    })

    chart.setOption({
      animation: false,
      textStyle: { fontFamily: 'DejaVu Sans' },
      grid: grids,
      xAxis: xAxes,
      yAxis: yAxes,
      series,
      graphic: graphics,
    })

    return () => {
      chart.dispose()
    }
  }, [])

  return <div ref={chartRef} style={{ width: 1375, height: 1023, background: '#fff' }} />
}

export default App
